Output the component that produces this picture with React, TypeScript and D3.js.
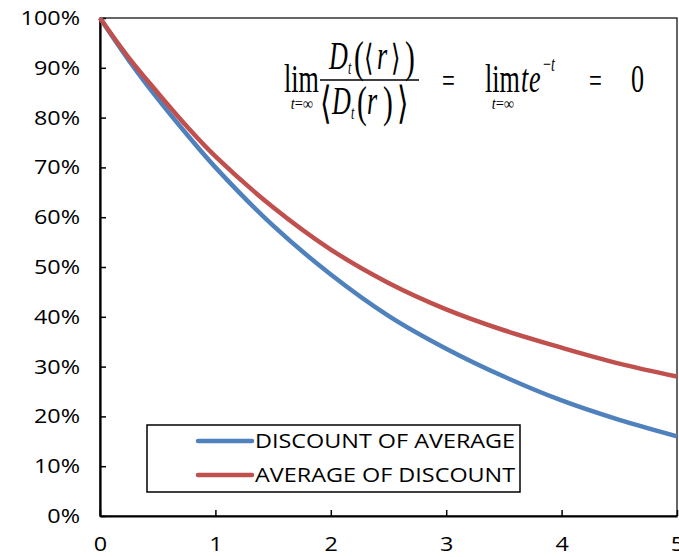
import * as d3 from "d3";
import { useRef, useEffect } from "react";

const width = 679;
const height = 557;
const margin = { top: 18, right: 2, bottom: 41, left: 100 };

// time axis and the two series (fractions of 1)
const tValues = [0, 0.25, 0.5, 0.75, 1, 1.5, 2, 2.5, 3, 3.5, 4, 4.5, 5];
const discountOfAverage = [1.0, 0.915, 0.838, 0.767, 0.7, 0.583, 0.485, 0.402, 0.336, 0.28, 0.232, 0.193, 0.16];
const averageOfDiscount = [1.0, 0.92, 0.85, 0.783, 0.722, 0.62, 0.535, 0.468, 0.415, 0.373, 0.338, 0.306, 0.28];
const xTicks = [0, 1, 2, 3, 4, 5];
const yTicks = [0, 0.1, 0.2, 0.3, 0.4, 0.5, 0.6, 0.7, 0.8, 0.9, 1];

const series = [
  { name: "DISCOUNT OF AVERAGE", values: discountOfAverage, color: "#4F81BD" },
  { name: "AVERAGE OF DISCOUNT", values: averageOfDiscount, color: "#C0504D" },
];

const labelFont = "'Open Sans', sans-serif";
const labelStretch = 1.17;
const mathFont = "'Liberation Serif', 'Times New Roman', serif";

// a piece of the formula, squeezed horizontally like the equation editor output
function M({ x, y, size = 39, italic = false, sx = 0.67, anchor = "start", children }: any) {
  return (
    <text
      transform={`translate(${x},${y}) scale(${sx},1)`}
      fontFamily={mathFont}
      fontSize={size}
      fontStyle={italic ? "italic" : "normal"}
      textAnchor={anchor}
      fill="#000"
    >
      {children}
    </text>
  );
}

function Formula() {
  return (
    <g>
      <M x={284} y={92}>lim</M>
      <M x={302} y={109} size={16} sx={0.9} anchor="middle"><tspan fontStyle="italic">t</tspan>=∞</M>

      {/* numerator */}
      <M x={329} y={69} italic>D</M>
      <M x={348} y={74} size={18} italic>t</M>
      <M x={354} y={72} size={44}>(</M>
      <M x={364} y={70} size={36}>⟨</M>
      <M x={377} y={69} italic>r</M>
      <M x={391} y={70} size={36}>⟩</M>
      <M x={405} y={72} size={44}>)</M>
      <line x1={320} x2={419} y1={80} y2={80} stroke="#000" strokeWidth={1.5} />

      {/* denominator */}
      <M x={320} y={118} size={44}>⟨</M>
      <M x={332} y={114} italic>D</M>
      <M x={351} y={119} size={18} italic>t</M>
      <M x={357} y={117} size={44}>(</M>
      <M x={367} y={114} italic>r</M>
      <M x={383} y={117} size={44}>)</M>
      <M x={397} y={118} size={44}>⟩</M>

      <M x={442} y={92} size={34}>=</M>

      <M x={485} y={92}>lim</M>
      <M x={503} y={109} size={16} sx={0.9} anchor="middle"><tspan fontStyle="italic">t</tspan>=∞</M>
      <M x={521} y={92} italic>t</M>
      <M x={529} y={92} italic>e</M>
      <M x={543} y={71} size={21}>−<tspan fontStyle="italic">t</tspan></M>

      <M x={589} y={92} size={34}>=</M>
      <M x={631} y={92}>0</M>
    </g>
  );
}

export default function App() {
  const svgRef = useRef<SVGSVGElement>(null);

  useEffect(() => {
    const svg = d3.select(svgRef.current);
    svg.selectAll(".chart").remove();
    const g = svg.append("g").attr("class", "chart");

    const x = d3.scaleLinear().domain([0, 5]).range([margin.left, width - margin.right]);
    const y = d3.scaleLinear().domain([0, 1]).range([height - margin.bottom, margin.top]);

    // plot area frame
    g.append("rect")
      .attr("x", margin.left)
      .attr("y", margin.top)
      .attr("width", width - margin.right - margin.left)
      .attr("height", height - margin.bottom - margin.top)
      .attr("fill", "none")
      .attr("stroke", "#000")
      .attr("stroke-width", 1.2);

    const yAxis = d3.axisLeft(y)
      .tickValues(yTicks)
      .tickFormat(d3.format(".0%"))
      .tickSizeInner(-6)
      .tickSizeOuter(0)
      .tickPadding(20);

    const xAxis = d3.axisBottom(x)
      .tickValues(xTicks)
      .tickFormat(d3.format("d"))
      .tickSizeInner(-6)
      .tickSizeOuter(0)
      .tickPadding(21);

    const yg = g.append("g").attr("transform", `translate(${margin.left},0)`).call(yAxis);
    const xg = g.append("g").attr("transform", `translate(0,${height - margin.bottom})`).call(xAxis);

    [yg, xg].forEach(ax => {
      ax.select(".domain").attr("stroke", "#000").attr("stroke-width", 2.2);
      ax.selectAll(".tick line").attr("stroke", "#000").attr("stroke-width", 1.5);
      ax.selectAll(".tick text")
        .attr("fill", "#000")
        .style("font-family", labelFont)
        .style("font-size", "20px");
    });
    // Calibri-like labels are wider than Open Sans: stretch them a little
    yg.selectAll(".tick text")
      .attr("x", -20 / labelStretch)
      .attr("transform", `scale(${labelStretch},1)`);
    xg.selectAll(".tick text").attr("transform", `scale(${labelStretch},1)`);

    const line = d3.line<number>()
      .x((_, i) => x(tValues[i]))
      .y(d => y(d))
      .curve(d3.curveCatmullRom.alpha(0.5));

    series.forEach(s => {
      g.append("path")
        .datum(s.values)
        .attr("fill", "none")
        .attr("stroke", s.color)
        .attr("stroke-width", 4.5)
        .attr("d", line);
    });

    // legend
    const lg = g.append("g");
    lg.append("rect")
      .attr("x", 147)
      .attr("y", 425)
      .attr("width", 373)
      .attr("height", 67)
      .attr("fill", "#fff")
      .attr("stroke", "#000")
      .attr("stroke-width", 1.5);

    series.forEach((s, i) => {
      const ly = 441 + i * 34;
      lg.append("line")
        .attr("x1", 198)
        .attr("x2", 252)
        .attr("y1", ly)
        .attr("y2", ly)
        .attr("stroke", s.color)
        .attr("stroke-width", 4.5)
        .attr("stroke-linecap", "round");
      lg.append("text")
        .attr("transform", `translate(255,${ly}) scale(${labelStretch},1)`)
        .attr("dy", "0.36em")
        .style("font-family", labelFont)
        .style("font-size", "20px")
        .attr("fill", "#000")
        .text(s.name);
    });
  }, []);

  return (
    <svg
      ref={svgRef}
      width={width}
      height={height}
      style={{ position: "absolute", left: 0, top: 0, background: "#fff" }}
    >
      <Formula />
    </svg>
  );
}
